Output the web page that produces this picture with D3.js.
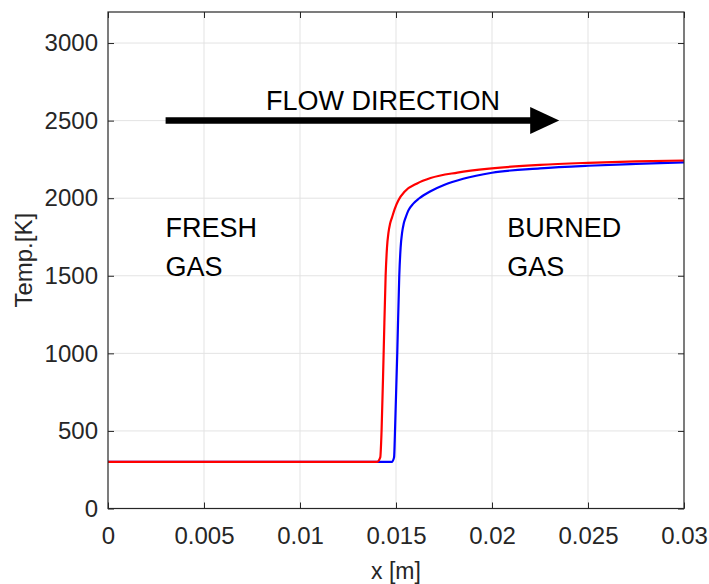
<!DOCTYPE html>
<html><head><meta charset="utf-8">
<script src="https://cdn.jsdelivr.net/npm/d3@7"></script>
<style>
html,body{margin:0;padding:0;background:#fff;}
text{font-family:"Liberation Sans",Arial,Helvetica,sans-serif;}
</style></head>
<body>
<svg id="chart" width="709" height="584"></svg>
<script>
// ---- data ----
const xTicks = [0, 0.005, 0.01, 0.015, 0.02, 0.025, 0.03];
const xTickLabels = ["0", "0.005", "0.01", "0.015", "0.02", "0.025", "0.03"];
const yTicks = [0, 500, 1000, 1500, 2000, 2500, 3000];
const yTickLabels = ["0", "500", "1000", "1500", "2000", "2500", "3000"];

const redX = [0, 0.0140, 0.01418, 0.01425, 0.01436, 0.01446, 0.01453, 0.01461, 0.01469, 0.01479, 0.01493, 0.01512, 0.01547, 0.0161, 0.0168, 0.0182, 0.0200, 0.0225, 0.025, 0.0275, 0.030];
const redT = [300, 300, 330, 506, 1020, 1500, 1680, 1780, 1835, 1875, 1930, 1985, 2045, 2095, 2130, 2165, 2192, 2215, 2228, 2237, 2243];
const blueX = [0, 0.01478, 0.01490, 0.01495, 0.01507, 0.01517, 0.01524, 0.01532, 0.0154, 0.0155, 0.01564, 0.0159, 0.0162, 0.0168, 0.0175, 0.0185, 0.0200, 0.0225, 0.025, 0.0275, 0.030];
const blueT = [300, 300, 330, 506, 1020, 1500, 1680, 1780, 1835, 1875, 1920, 1965, 1998, 2045, 2085, 2125, 2164, 2192, 2209, 2221, 2231];

const arrowX = [0.003, 0.0235];
const arrowT = 2500;
const notes = [
  {lines: ["FRESH", "GAS"], x: 0.003, t: 1750},
  {lines: ["BURNED", "GAS"], x: 0.0208, t: 1750}
];
const flowLabel = {text: "FLOW DIRECTION", x: 0.00823, t: 2570};

// ---- layout ----
const svg = d3.select("#chart");
const L = 108, R = 684, T = 12, B = 508.5;
const x = d3.scaleLinear().domain([0, 0.03]).range([L, R]);
const y = d3.scaleLinear().domain([0, 3200]).range([B, T]);
const axisColor = "#262626";

// grid
const g = svg.append("g");
g.selectAll(".gx").data(xTicks.slice(1, -1)).enter().append("line")
  .attr("x1", d => x(d)).attr("x2", d => x(d)).attr("y1", T).attr("y2", B)
  .attr("stroke", "#e3e3e3").attr("stroke-width", 1);
g.selectAll(".gy").data(yTicks.slice(1)).enter().append("line")
  .attr("x1", L).attr("x2", R).attr("y1", d => y(d)).attr("y2", d => y(d))
  .attr("stroke", "#e3e3e3").attr("stroke-width", 1);

// curves
const line = d3.line().x(d => x(d[0])).y(d => y(d[1])).curve(d3.curveMonotoneX);
const blue = blueX.map((v, i) => [v, blueT[i]]);
const red = redX.map((v, i) => [v, redT[i]]);
svg.append("path").datum(blue).attr("d", line).attr("fill", "none")
  .attr("stroke", "#0000ff").attr("stroke-width", 2.2);
svg.append("path").datum(red).attr("d", line).attr("fill", "none")
  .attr("stroke", "#ff0000").attr("stroke-width", 2.2);

// axes (MATLAB style ticks inward, box)
const fs = 24;
const xAxis = d3.axisBottom(x).tickValues(xTicks).tickFormat((d, i) => xTickLabels[i]).tickSizeInner(-6).tickSizeOuter(0).tickPadding(18);
const xa = svg.append("g").attr("transform", `translate(0,${B})`).call(xAxis);
const yAxis = d3.axisLeft(y).tickValues(yTicks).tickFormat((d, i) => yTickLabels[i]).tickSizeInner(-6).tickSizeOuter(0).tickPadding(10);
const ya = svg.append("g").attr("transform", `translate(${L},0)`).call(yAxis);
const xTop = d3.axisTop(x).tickValues(xTicks).tickFormat("").tickSizeInner(-6).tickSizeOuter(0);
const xt = svg.append("g").attr("transform", `translate(0,${T})`).call(xTop);
const yRight = d3.axisRight(y).tickValues(yTicks).tickFormat("").tickSizeInner(-6).tickSizeOuter(0);
const yr = svg.append("g").attr("transform", `translate(${R},0)`).call(yRight);
[xa, ya, xt, yr].forEach(a => {
  a.select(".domain").remove();
  a.selectAll("line").attr("stroke", axisColor);
  a.selectAll("text").attr("fill", axisColor).style("font-size", fs + "px")
    .style("font-family", '"Liberation Sans",Arial,sans-serif');
});
svg.append("rect").attr("x", L).attr("y", T).attr("width", R - L).attr("height", B - T)
  .attr("fill", "none").attr("stroke", axisColor).attr("stroke-width", 1.2);

// axis labels
svg.append("text").attr("x", (L + R) / 2).attr("y", 579).attr("text-anchor", "middle")
  .attr("fill", axisColor).style("font-size", "23px").text("x [m]");
svg.append("text").attr("transform", `translate(32,${(T + B) / 2}) rotate(-90)`).attr("text-anchor", "middle")
  .attr("fill", axisColor).style("font-size", "24px").text("Temp.[K]");

// arrow
const ax1 = x(arrowX[0]), ax2 = x(arrowX[1]), ay = y(arrowT);
svg.append("line").attr("x1", ax1).attr("x2", ax2 - 26).attr("y1", ay).attr("y2", ay)
  .attr("stroke", "#000").attr("stroke-width", 6.5);
svg.append("path").attr("d", `M${ax2},${ay} L${ax2 - 29},${ay - 13.5} L${ax2 - 29},${ay + 13.5} Z`).attr("fill", "#000");

svg.append("text").attr("x", x(flowLabel.x)).attr("y", y(flowLabel.t)).attr("fill", "#000")
  .style("font-size", "27px").text(flowLabel.text);

notes.forEach(n => {
  n.lines.forEach((s, i) => {
    svg.append("text").attr("x", x(n.x)).attr("y", y(n.t) + i * 39).attr("fill", "#000")
      .style("font-size", "27px").text(s);
  });
});
</script>
</body></html>
